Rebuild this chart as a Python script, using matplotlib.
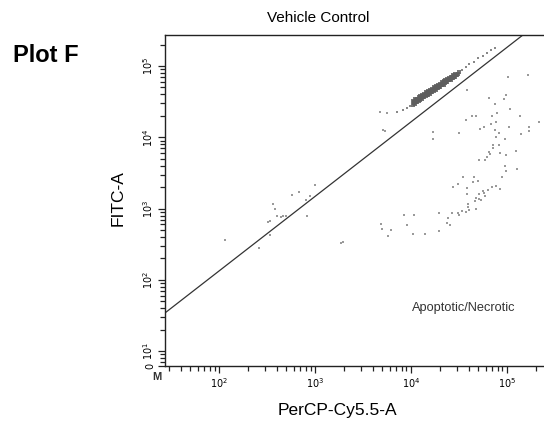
import numpy as np
import matplotlib
matplotlib.use("Agg")
import matplotlib.pyplot as plt
from matplotlib.ticker import LogLocator, FixedLocator, NullFormatter

plt.rcParams['font.family'] = ['Liberation Sans', 'DejaVu Sans']

# events, as log10 of intensity (PerCP-Cy5.5-A, FITC-A)
cluster_percp = [4.02, 4.02, 4.03, 4.04, 4.04, 4.05, 4.06, 4.06, 4.07, 4.08, 4.08, 4.09,
                 4.10, 4.10, 4.11, 4.12, 4.12, 4.13, 4.14, 4.14, 4.15, 4.16, 4.16, 4.17,
                 4.18, 4.18, 4.19, 4.20, 4.20, 4.21, 4.22, 4.22, 4.23, 4.24, 4.24, 4.25,
                 4.26, 4.26, 4.27, 4.28, 4.28, 4.29, 4.30, 4.30, 4.31, 4.32, 4.32, 4.33,
                 4.34, 4.34, 4.35, 4.36, 4.36, 4.37, 4.38, 4.38, 4.39, 4.40, 4.40, 4.41,
                 4.42, 4.42, 4.43, 4.44, 4.44, 4.45, 4.46, 4.46, 4.47, 4.48, 4.49, 4.50,
                 4.03, 4.05, 4.07, 4.09, 4.11, 4.13, 4.15, 4.17, 4.19, 4.21, 4.23, 4.25,
                 4.27, 4.29, 4.31, 4.33, 4.35, 4.37, 4.39, 4.41, 4.43, 4.45]
cluster_fitc = [4.45, 4.51, 4.48, 4.47, 4.53, 4.50, 4.49, 4.54, 4.52, 4.51, 4.56, 4.54,
                4.52, 4.58, 4.55, 4.54, 4.59, 4.57, 4.56, 4.61, 4.59, 4.58, 4.63, 4.60,
                4.60, 4.65, 4.62, 4.61, 4.66, 4.64, 4.63, 4.68, 4.66, 4.65, 4.70, 4.68,
                4.67, 4.72, 4.69, 4.69, 4.74, 4.71, 4.71, 4.75, 4.73, 4.73, 4.77, 4.75,
                4.74, 4.79, 4.77, 4.76, 4.80, 4.78, 4.78, 4.82, 4.80, 4.80, 4.83, 4.82,
                4.81, 4.85, 4.83, 4.83, 4.87, 4.85, 4.85, 4.89, 4.87, 4.88, 4.89, 4.91,
                4.50, 4.52, 4.53, 4.55, 4.57, 4.58, 4.60, 4.62, 4.64, 4.65, 4.67, 4.69,
                4.70, 4.72, 4.74, 4.76, 4.77, 4.79, 4.81, 4.82, 4.84, 4.86]

tail_percp = [3.86, 3.92, 3.96, 3.99, 4.53, 4.57, 4.61, 4.66, 4.70, 4.75, 4.79, 4.83, 4.88]
tail_fitc = [4.35, 4.38, 4.41, 4.44, 4.95, 4.99, 5.03, 5.05, 5.11, 5.14, 5.18, 5.22, 5.25]

sparse_percp = [5.01, 5.22, 4.58, 4.81, 4.99, 4.97, 4.88, 5.03, 4.90, 4.85, 5.14, 4.64,
                4.68, 4.57, 4.83, 4.89, 5.34, 5.02, 4.76, 4.72, 4.88, 5.23, 5.23, 4.50,
                4.92, 5.15, 4.89, 4.98, 4.86, 4.92, 4.86, 4.23, 4.81, 4.82, 4.93, 4.99,
                4.79, 5.10, 4.71, 4.77, 4.98, 4.99, 5.11, 4.66, 4.54, 4.65, 4.70, 4.49,
                4.44, 4.58, 4.95, 4.89, 4.85, 4.93, 4.80, 4.75, 4.76, 4.71, 4.58, 4.77,
                4.68, 4.71, 4.73, 4.67, 4.60, 4.60, 4.68, 4.61, 4.53, 4.57, 4.49, 4.43,
                4.29, 4.50, 4.39, 4.38, 4.41, 3.93, 4.03, 3.96, 3.69, 3.79, 3.76, 4.02,
                4.15, 4.29, 3.70,
                3.00, 2.76, 2.83, 2.95, 2.91, 2.56, 2.58, 2.61, 2.65, 2.67, 2.70, 2.92,
                2.51, 2.53, 2.53, 2.42, 3.27, 3.29, 3.68, 3.75, 3.71, 3.73, 4.23, 2.06]
sparse_fitc = [4.85, 4.88, 4.67, 4.55, 4.59, 4.54, 4.47, 4.40, 4.34, 4.30, 4.30, 4.30,
               4.30, 4.24, 4.19, 4.21, 4.21, 4.14, 4.14, 4.12, 4.10, 4.14, 4.09, 4.06,
               4.06, 4.05, 4.01, 3.98, 3.89, 3.89, 3.85, 3.98, 3.79, 3.76, 3.78, 3.75,
               3.72, 3.81, 3.68, 3.68, 3.60, 3.53, 3.56, 3.45, 3.44, 3.37, 3.38, 3.34,
               3.30, 3.29, 3.44, 3.32, 3.30, 3.28, 3.26, 3.25, 3.22, 3.21, 3.21, 3.17,
               3.15, 3.14, 3.12, 3.11, 3.06, 3.02, 3.00, 2.98, 2.96, 2.95, 2.94, 2.94,
               2.94, 2.91, 2.87, 2.80, 2.77, 2.91, 2.91, 2.77, 2.79, 2.70, 2.62, 2.65,
               2.65, 2.68, 2.72,
               3.33, 3.19, 3.23, 3.17, 3.12, 3.06, 2.99, 2.90, 2.88, 2.90, 2.90, 2.90,
               2.81, 2.83, 2.63, 2.45, 2.52, 2.53, 4.36, 4.34, 4.10, 4.09, 4.08, 2.56]

# diagonal gate line end points
gate_x = [27.4, 147000]
gate_y = [34.4, 272000]

x_ticks = [1e2, 1e3, 1e4, 1e5]
x_labels = ['$10^2$', '$10^3$', '$10^4$', '$10^5$']
y_ticks = [6.2, 1e1, 1e2, 1e3, 1e4, 1e5]
y_labels = ['0', '$10^1$', '$10^2$', '$10^3$', '$10^4$', '$10^5$']

fig = plt.figure(figsize=(5.44, 4.21), dpi=100)
ax = fig.add_axes([165 / 544, 1 - 366 / 421, 382 / 544, 331 / 421])
ax.set_xscale('log')
ax.set_yscale('log')
ax.set_xlim(27.4, 262144)
ax.set_ylim(6.2, 272000)

ax.scatter(10 ** np.array(sparse_percp), 10 ** np.array(sparse_fitc), s=2.5, marker='s',
           color='#9a9a9a', linewidths=0)
ax.scatter(10 ** np.array(tail_percp), 10 ** np.array(tail_fitc), s=2.5, marker='s',
           color='#888888', linewidths=0)
ax.scatter(10 ** np.array(cluster_percp), 10 ** np.array(cluster_fitc), s=8, marker='s',
           color='#5e5e5e', linewidths=0, alpha=0.85)
ax.plot(gate_x, gate_y, color='#333333', lw=0.9)

for s in ax.spines.values():
    s.set_color('#222222')
    s.set_linewidth(1.0)

ax.xaxis.set_major_locator(FixedLocator(x_ticks))
ax.set_xticklabels(x_labels, fontsize=7, family='DejaVu Sans')
ax.xaxis.set_minor_locator(LogLocator(base=10, subs=np.arange(2, 10), numticks=20))
ax.xaxis.set_minor_formatter(NullFormatter())
ax.yaxis.set_major_locator(FixedLocator(y_ticks))
ax.set_yticklabels(y_labels, fontsize=7, rotation=90, va='center', family='DejaVu Sans')
ax.yaxis.set_minor_locator(LogLocator(base=10, subs=np.arange(2, 10), numticks=20))
ax.yaxis.set_minor_formatter(NullFormatter())
ax.tick_params(which='major', length=5, width=0.9, color='#222222', pad=2)
ax.tick_params(which='minor', length=3.5, width=0.9, color='#222222')

fig.text(318 / 544, 1 - 18 / 421, 'Vehicle Control', ha='center', va='center', fontsize=11)
fig.text(337 / 544, 1 - 410 / 421, 'PerCP-Cy5.5-A', ha='center', va='center', fontsize=12.5)
fig.text(118 / 544, 1 - 198 / 421, 'FITC-A', ha='center', va='center', fontsize=12.5,
         rotation=90)
fig.text(46 / 544, 1 - 55 / 421, 'Plot F', ha='center', va='center', fontsize=17,
         fontweight='bold')
fig.text(464 / 544, 1 - 308 / 421, 'Apoptotic/Necrotic', ha='center', va='center',
         fontsize=9.2, color='#333333')
fig.text(157 / 544, 1 - 377 / 421, 'M', ha='center', va='center', fontsize=8,
         fontweight='bold', color='#333333')

fig.savefig('out.png', dpi=100)
